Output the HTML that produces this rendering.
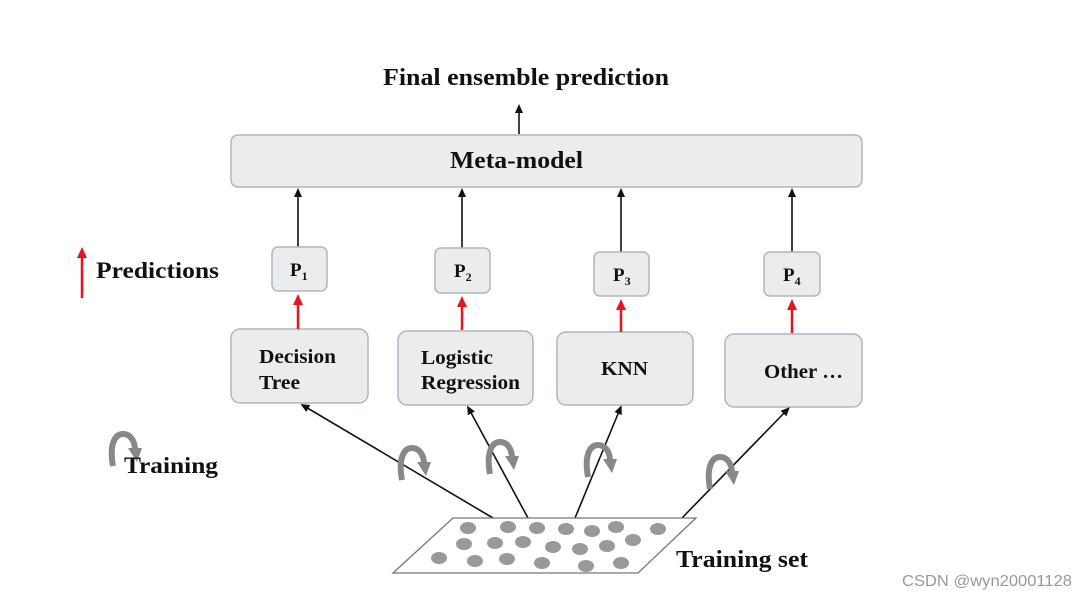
<!DOCTYPE html>
<html><head><style>
html,body{margin:0;padding:0;background:#fff;}
svg{display:block;}
.t{font-family:"Liberation Serif",serif;font-weight:bold;fill:#111;}
</style></head><body>
<svg width="1087" height="599" viewBox="0 0 1087 599" xmlns="http://www.w3.org/2000/svg">
<defs>
<marker id="ab" markerWidth="10" markerHeight="10" refX="5" refY="5" orient="auto" markerUnits="userSpaceOnUse"><path d="M0,1 L9,5 L0,9 z" fill="#111"/></marker>
<marker id="ar" markerWidth="12" markerHeight="12" refX="6" refY="6" orient="auto" markerUnits="userSpaceOnUse"><path d="M0,1 L11,6 L0,11 z" fill="#e8141c"/></marker>
<g id="curl">
<path d="M6,34 C2,12 8,2 16,2 C24,2 28,10 28,18" fill="none" stroke="#888" stroke-width="6"/>
<path d="M21,16 L35,16 L30,30 z" fill="#888"/>
</g>
</defs>

<text class="t" x="383" y="85" font-size="24" textLength="286" lengthAdjust="spacingAndGlyphs">Final ensemble prediction</text>
<line x1="519" y1="134" x2="519" y2="108" stroke="#111" stroke-width="1.6" marker-end="url(#ab)"/>

<rect x="231" y="135" width="631" height="52" rx="7" fill="#ececec" stroke="#aeb6c0" stroke-width="1.5"/>
<text class="t" x="450" y="168" font-size="24" textLength="133" lengthAdjust="spacingAndGlyphs">Meta-model</text>

<g stroke="#111" stroke-width="1.6">
<line x1="298" y1="247" x2="298" y2="192" marker-end="url(#ab)"/>
<line x1="462" y1="248" x2="462" y2="192" marker-end="url(#ab)"/>
<line x1="621" y1="252" x2="621" y2="192" marker-end="url(#ab)"/>
<line x1="792" y1="252" x2="792" y2="192" marker-end="url(#ab)"/>
</g>

<g fill="#ececec" stroke="#aeb6c0" stroke-width="1.5">
<rect x="272" y="247" width="55" height="44" rx="6"/>
<rect x="435" y="248" width="55" height="45" rx="6"/>
<rect x="594" y="252" width="55" height="44" rx="6"/>
<rect x="764" y="252" width="56" height="44" rx="6"/>
<rect x="231" y="329" width="137" height="74" rx="9"/>
<rect x="398" y="331" width="135" height="74" rx="9"/>
<rect x="557" y="332" width="136" height="73" rx="9"/>
<rect x="725" y="334" width="137" height="73" rx="9"/>
</g>
<g class="t" font-size="19">
<text x="290" y="276">P<tspan font-size="12" dy="4">1</tspan></text>
<text x="454" y="277">P<tspan font-size="12" dy="4">2</tspan></text>
<text x="613" y="281">P<tspan font-size="12" dy="4">3</tspan></text>
<text x="783" y="281">P<tspan font-size="12" dy="4">4</tspan></text>
</g>
<g class="t" font-size="20">
<text x="259" y="363" textLength="77" lengthAdjust="spacingAndGlyphs">Decision</text>
<text x="259" y="389" textLength="41" lengthAdjust="spacingAndGlyphs">Tree</text>
<text x="421" y="364" textLength="72" lengthAdjust="spacingAndGlyphs">Logistic</text>
<text x="421" y="389" textLength="99" lengthAdjust="spacingAndGlyphs">Regression</text>
<text x="601" y="375" textLength="47" lengthAdjust="spacingAndGlyphs">KNN</text>
<text x="764" y="378" textLength="79" lengthAdjust="spacingAndGlyphs">Other …</text>
</g>

<g stroke="#e8141c" stroke-width="2.5">
<line x1="298" y1="329" x2="298" y2="299" marker-end="url(#ar)"/>
<line x1="462" y1="330" x2="462" y2="301" marker-end="url(#ar)"/>
<line x1="621" y1="332" x2="621" y2="304" marker-end="url(#ar)"/>
<line x1="792" y1="333" x2="792" y2="304" marker-end="url(#ar)"/>
<line x1="82" y1="298" x2="82" y2="252" marker-end="url(#ar)"/>
</g>
<text class="t" x="96" y="278" font-size="23" textLength="123" lengthAdjust="spacingAndGlyphs">Predictions</text>

<g stroke="#111" stroke-width="1.6">
<line x1="493" y1="518" x2="304" y2="406" marker-end="url(#ab)"/>
<line x1="528" y1="518" x2="469" y2="409" marker-end="url(#ab)"/>
<line x1="575" y1="518" x2="620" y2="409" marker-end="url(#ab)"/>
<line x1="682" y1="518" x2="787" y2="410" marker-end="url(#ab)"/>
</g>

<use href="#curl" x="396" y="446"/>
<use href="#curl" x="484" y="440"/>
<use href="#curl" x="582" y="443"/>
<use href="#curl" x="704" y="455"/>
<use href="#curl" x="107" y="432"/>
<text class="t" x="124" y="473" font-size="23" textLength="94" lengthAdjust="spacingAndGlyphs">Training</text>

<polygon points="453,518 696,518 638,573 393,573" fill="#fff" stroke="#777" stroke-width="1.3"/>
<g fill="#999">
<ellipse cx="468" cy="528" rx="8" ry="6"/><ellipse cx="508" cy="527" rx="8" ry="6"/><ellipse cx="537" cy="528" rx="8" ry="6"/><ellipse cx="566" cy="529" rx="8" ry="6"/><ellipse cx="592" cy="531" rx="8" ry="6"/><ellipse cx="616" cy="527" rx="8" ry="6"/><ellipse cx="658" cy="529" rx="8" ry="6"/>
<ellipse cx="464" cy="544" rx="8" ry="6"/><ellipse cx="495" cy="543" rx="8" ry="6"/><ellipse cx="523" cy="542" rx="8" ry="6"/><ellipse cx="553" cy="547" rx="8" ry="6"/><ellipse cx="580" cy="549" rx="8" ry="6"/><ellipse cx="607" cy="546" rx="8" ry="6"/><ellipse cx="633" cy="540" rx="8" ry="6"/>
<ellipse cx="439" cy="558" rx="8" ry="6"/><ellipse cx="475" cy="561" rx="8" ry="6"/><ellipse cx="507" cy="559" rx="8" ry="6"/><ellipse cx="542" cy="563" rx="8" ry="6"/><ellipse cx="586" cy="566" rx="8" ry="6"/><ellipse cx="621" cy="563" rx="8" ry="6"/>
</g>
<text class="t" x="676" y="567" font-size="24" textLength="132" lengthAdjust="spacingAndGlyphs">Training set</text>
<text x="902" y="586" font-size="16" fill="#999" font-family="Liberation Sans, sans-serif" textLength="170" lengthAdjust="spacingAndGlyphs">CSDN @wyn20001128</text>
</svg>
</body></html>
